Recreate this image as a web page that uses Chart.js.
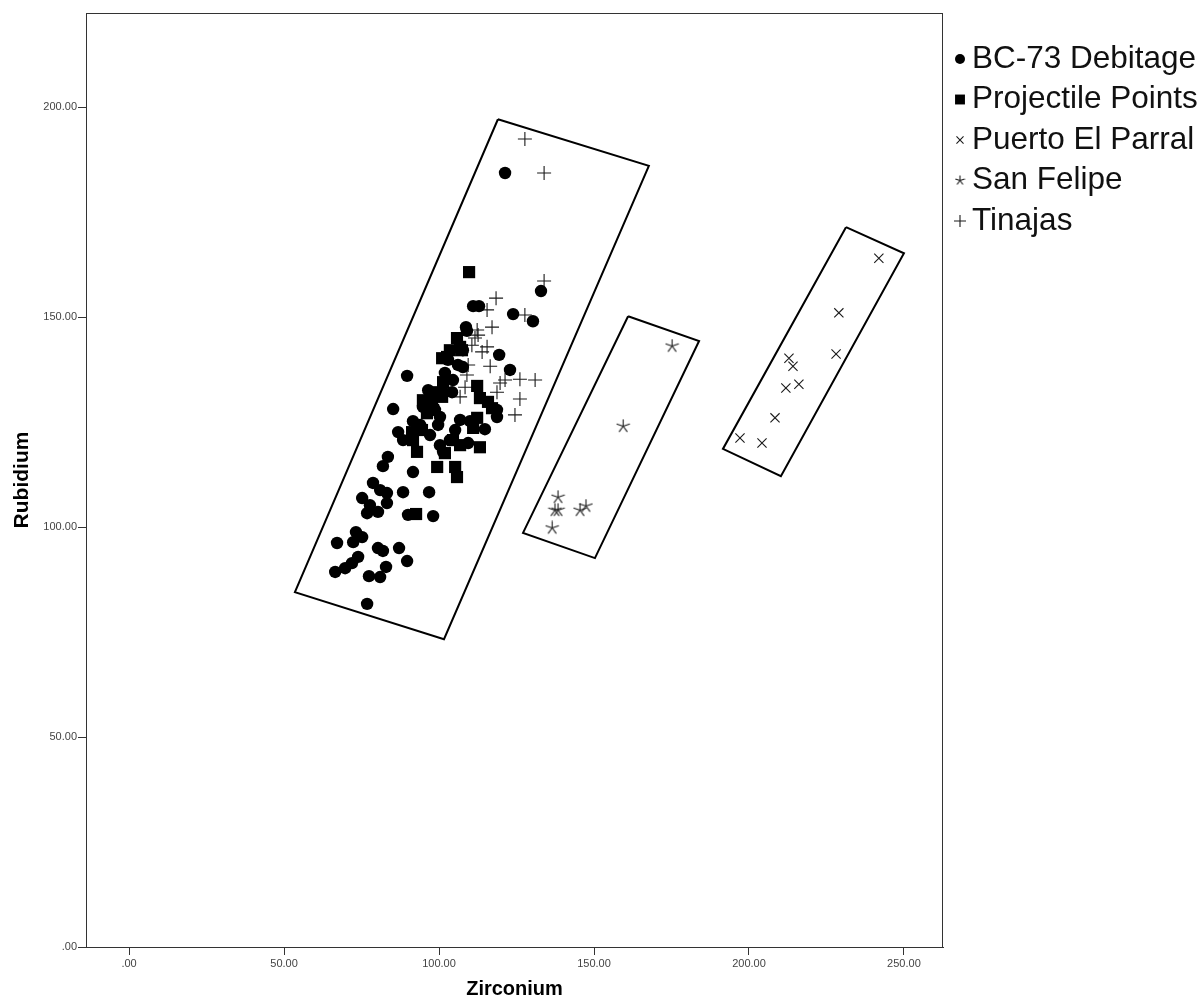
<!DOCTYPE html>
<html>
<head>
<meta charset="utf-8">
<script src="https://cdn.jsdelivr.net/npm/chart.js@4.4.0/dist/chart.umd.min.js"></script>
<style>
  html, body { margin: 0; padding: 0; background: #fff; }
  #wrap { width: 1204px; height: 999px; position: relative; }
</style>
</head>
<body>
<div id="wrap"><canvas id="scatterChart"></canvas></div>
<script>
// Graduations des axes
const xTicks = [0, 50, 100, 150, 200, 250];
const yTicks = [0, 50, 100, 150, 200];

// Séries : [Zirconium, Rubidium]
const seriesNames = ["BC-73 Debitage", "Projectile Points", "Puerto El Parral", "San Felipe", "Tinajas"];

const debitage = [
  [121.3,184.3],[132.9,156.2],[123.9,150.7],[130.3,149.0],[111.0,152.6],[112.9,152.6],[108.7,147.6],[109.0,146.7],
  [107.7,142.1],[106.1,138.6],[107.7,138.1],[119.4,141.0],[122.9,137.4],[89.7,136.0],[101.9,136.7],[104.5,135.0],
  [96.5,132.6],[101.3,132.1],[104.2,132.1],[85.2,128.1],[94.8,128.6],[98.7,127.9],[100.3,126.2],[91.6,125.2],
  [99.7,124.3],[86.8,122.6],[88.4,120.7],[97.1,121.9],[118.7,127.9],[118.7,126.2],[110.0,125.2],[114.8,123.3],
  [100.3,119.5],[103.5,120.7],[109.4,120.0],[101.3,117.9],[83.5,116.7],[81.9,114.5],[91.6,113.1],[78.7,110.5],
  [81.0,108.8],[83.2,108.1],[88.4,108.3],[96.8,108.3],[75.2,106.9],[77.7,105.2],[83.2,105.7],[76.8,103.3],
  [80.3,103.6],[90.0,102.9],[98.1,102.6],[73.2,98.8],[75.2,97.6],[72.3,96.4],[67.1,96.2],[80.3,95.0],
  [81.9,94.3],[87.1,95.0],[89.7,91.9],[73.9,92.9],[71.9,91.4],[69.7,90.2],[66.5,89.3],[82.9,90.5],
  [77.4,88.3],[81.0,88.1],[76.8,81.7],[102.9,139.8],[98.7,131.2],[106.8,125.5],[105.2,123.1],[93.9,124.3]
];

const projectiles = [
  [109.7,160.7],[105.8,145.0],[106.8,142.9],[103.5,142.1],[102.6,140.5],[101.0,140.2],[107.4,142.1],[101.3,134.5],
  [94.8,130.2],[97.7,129.5],[98.1,127.9],[101.0,131.0],[91.3,122.6],[94.5,123.1],[91.6,120.7],[92.9,117.9],
  [112.3,133.6],[113.2,130.7],[115.8,129.8],[117.1,128.3],[112.3,126.0],[111.0,123.6],[104.5,120.7],[106.8,119.5],
  [113.2,119.0],[101.9,117.6],[99.4,114.3],[105.2,114.3],[105.8,111.9],[92.6,103.1],[96.1,127.1],[99.7,132.1],
  [97.1,131.4]
];

const puertoParral = [
  [241.9,164.0],[229.0,151.0],[228.1,141.2],[212.9,140.2],[214.2,138.3],
  [216.1,134.0],[211.9,133.1],[208.4,126.0],[197.1,121.2],[204.2,120.0]
];

const sanFelipe = [
  [175.2,143.1],[159.4,124.0],[138.4,107.1],[137.4,104.0],[138.4,104.0],[145.5,104.0],[147.4,105.0],[136.5,99.8]
];

const tinajas = [
  [127.7,192.4],[133.9,184.3],[133.9,158.6],[118.4,154.5],[115.5,151.7],[127.7,150.5],[117.1,147.6],[112.3,146.9],
  [112.6,145.7],[111.6,145.0],[110.6,143.3],[115.5,142.9],[113.9,141.7],[116.5,138.3],[109.4,138.6],[109.0,136.2],
  [108.4,133.3],[106.8,131.0],[119.7,134.3],[121.3,135.0],[126.1,135.2],[131.0,135.0],[118.7,132.1],[126.1,130.5],
  [124.5,126.7]
];

// Enveloppes (coins des rectangles inclinés)
const boxMain = [[119.0,197.1],[167.7,186.0],[101.6,73.3],[53.5,84.5]];
const boxSanFelipe = [[161.0,150.2],[183.9,144.3],[150.3,92.6],[127.1,98.6]];
const boxParral = [[231.3,171.4],[250.0,165.2],[210.3,112.1],[191.6,118.6]];

const FONT = 'Arial, "Liberation Sans", sans-serif';
const MARK = "#1a1a1a";

const toPts = arr => arr.map(p => ({ x: p[0], y: p[1] }));
const closed = arr => toPts(arr.concat([arr[0]]));
const fmt = v => (v === 0 ? ".00" : Number(v).toFixed(2));

// Astérisque à 5 branches (style SPSS)
function makeStar(size) {
  const c = document.createElement("canvas");
  c.width = c.height = size;
  const g = c.getContext("2d");
  g.strokeStyle = MARK;
  g.lineWidth = 1.1;
  const r = size / 2 - 0.5;
  for (let k = 0; k < 5; k++) {
    const a = -Math.PI / 2 + k * 2 * Math.PI / 5;
    g.beginPath();
    g.moveTo(size / 2, size / 2);
    g.lineTo(size / 2 + r * Math.cos(a), size / 2 + r * Math.sin(a));
    g.stroke();
  }
  return c;
}
const starBig = makeStar(15);
const starSmall = makeStar(11);

function boxDataset(arr) {
  return {
    type: "line", data: closed(arr), showLine: true, fill: false,
    borderColor: "#000", borderWidth: 2, pointRadius: 0, tension: 0, isBox: true
  };
}

// Cadre autour de la zone de tracé
const framePlugin = {
  id: "frame",
  beforeDatasetsDraw(chart) {
    const { ctx, chartArea: a } = chart;
    ctx.save();
    ctx.strokeStyle = "#333";
    ctx.lineWidth = 1;
    ctx.strokeRect(a.left + 0.5, a.top + 0.5, a.right - a.left - 1, a.bottom - a.top);
    ctx.restore();
  }
};

// Légende dessinée à droite
const legendPlugin = {
  id: "sideLegend",
  afterDraw(chart) {
    const ctx = chart.ctx;
    const items = chart.data.datasets.filter(d => !d.isBox);
    ctx.save();
    items.forEach((d, i) => {
      const y = 59 + 40.5 * i;
      ctx.fillStyle = d.backgroundColor || "#000";
      ctx.strokeStyle = d.borderColor || "#000";
      ctx.lineWidth = d.borderWidth || 1;
      Chart.helpers.drawPoint(ctx, {
        pointStyle: d.legendStyle || d.pointStyle,
        radius: d.legendRadius,
        rotation: 0,
        borderWidth: d.borderWidth || 0
      }, 960, y);
      ctx.fillStyle = "#111";
      ctx.font = "31.5px " + FONT;
      ctx.textBaseline = "middle";
      ctx.textAlign = "left";
      ctx.fillText(d.label, 972, y);
    });
    ctx.restore();
  }
};

const ctx = document.getElementById("scatterChart").getContext("2d");
const chart = new Chart(ctx, {
  type: "scatter",
  data: {
    datasets: [
      { label: seriesNames[0], data: toPts(debitage), pointStyle: "circle", pointRadius: 6.2,
        backgroundColor: "#000", borderColor: "#000", borderWidth: 0, legendRadius: 5 },
      { label: seriesNames[1], data: toPts(projectiles), pointStyle: "rect", pointRadius: 8.6,
        backgroundColor: "#000", borderColor: "#000", borderWidth: 0, legendRadius: 7 },
      { label: seriesNames[2], data: toPts(puertoParral), pointStyle: "crossRot", pointRadius: 6.5,
        backgroundColor: MARK, borderColor: MARK, borderWidth: 1.1, legendRadius: 5 },
      { label: seriesNames[3], data: toPts(sanFelipe), pointStyle: starBig, legendStyle: starSmall,
        backgroundColor: MARK, borderColor: MARK, borderWidth: 1.1, legendRadius: 5 },
      { label: seriesNames[4], data: toPts(tinajas), pointStyle: "cross", pointRadius: 7,
        backgroundColor: MARK, borderColor: MARK, borderWidth: 1.1, legendRadius: 6 },
      boxDataset(boxMain),
      boxDataset(boxSanFelipe),
      boxDataset(boxParral)
    ]
  },
  options: {
    responsive: true,
    maintainAspectRatio: false,
    animation: false,
    layout: { padding: { left: 0, top: 13, right: 261, bottom: 0 } },
    plugins: { legend: { display: false }, tooltip: { enabled: false } },
    scales: {
      x: {
        type: "linear", min: -13.9, max: 262.6,
        afterBuildTicks: s => { s.ticks = xTicks.map(v => ({ value: v })); },
        afterFit: s => { s.height = 52; },
        grid: { display: true, drawOnChartArea: false, tickLength: 8, tickColor: "#333" },
        border: { display: true, color: "#333" },
        ticks: { padding: 2, color: "#444", font: { family: FONT, size: 11 }, callback: fmt, maxRotation: 0 },
        title: { display: true, text: "Zirconium", color: "#000",
          font: { family: FONT, size: 20, weight: "bold", lineHeight: 1 }, padding: { top: 0, bottom: 0 } }
      },
      y: {
        type: "linear", min: 0, max: 222.4,
        afterBuildTicks: s => { s.ticks = yTicks.map(v => ({ value: v })); },
        afterFit: s => { s.width = 86; },
        grid: { display: true, drawOnChartArea: false, tickLength: 8, tickColor: "#333" },
        border: { display: true, color: "#333" },
        ticks: { padding: 1, color: "#444", font: { family: FONT, size: 11 }, callback: fmt },
        title: { display: true, text: "Rubidium", color: "#000",
          font: { family: FONT, size: 21, weight: "bold", lineHeight: 1 }, padding: { top: 12, bottom: 0 } }
      }
    }
  },
  plugins: [framePlugin, legendPlugin]
});
</script>
</body>
</html>
